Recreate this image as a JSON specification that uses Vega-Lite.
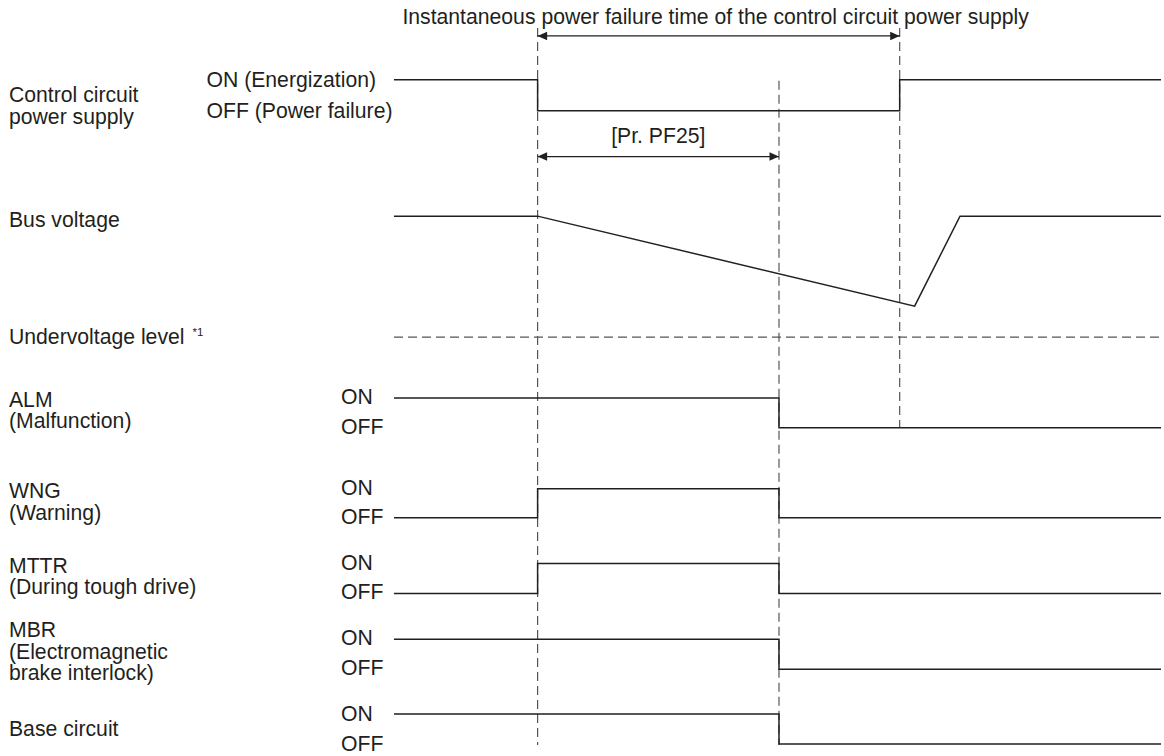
{
  "$schema": "https://vega.github.io/schema/vega-lite/v6.json",
  "width": 1164,
  "height": 756,
  "autosize": {"type": "fit", "contains": "padding"},
  "padding": 0,
  "background": "white",
  "config": {"view": {"stroke": null}},
  "datasets": {
    "signals": [
      {"s": "ctrl", "i": 0, "t": 395, "v": 80},
      {"s": "ctrl", "i": 1, "t": 539, "v": 80},
      {"s": "ctrl", "i": 2, "t": 539, "v": 111},
      {"s": "ctrl", "i": 3, "t": 902, "v": 111},
      {"s": "ctrl", "i": 4, "t": 902, "v": 80},
      {"s": "ctrl", "i": 5, "t": 1164, "v": 80},
      {"s": "bus", "i": 0, "t": 395, "v": 216.7},
      {"s": "bus", "i": 1, "t": 539, "v": 216.7},
      {"s": "bus", "i": 2, "t": 917, "v": 307},
      {"s": "bus", "i": 3, "t": 962.5, "v": 216.7},
      {"s": "bus", "i": 4, "t": 1164, "v": 216.7},
      {"s": "alm", "i": 0, "t": 395, "v": 399},
      {"s": "alm", "i": 1, "t": 781, "v": 399},
      {"s": "alm", "i": 2, "t": 781, "v": 429},
      {"s": "alm", "i": 3, "t": 1164, "v": 429},
      {"s": "wng", "i": 0, "t": 395, "v": 519},
      {"s": "wng", "i": 1, "t": 539, "v": 519},
      {"s": "wng", "i": 2, "t": 539, "v": 490},
      {"s": "wng", "i": 3, "t": 781, "v": 490},
      {"s": "wng", "i": 4, "t": 781, "v": 519},
      {"s": "wng", "i": 5, "t": 1164, "v": 519},
      {"s": "mttr", "i": 0, "t": 395, "v": 595},
      {"s": "mttr", "i": 1, "t": 539, "v": 595},
      {"s": "mttr", "i": 2, "t": 539, "v": 565},
      {"s": "mttr", "i": 3, "t": 781, "v": 565},
      {"s": "mttr", "i": 4, "t": 781, "v": 595},
      {"s": "mttr", "i": 5, "t": 1164, "v": 595},
      {"s": "mbr", "i": 0, "t": 395, "v": 641},
      {"s": "mbr", "i": 1, "t": 781, "v": 641},
      {"s": "mbr", "i": 2, "t": 781, "v": 671},
      {"s": "mbr", "i": 3, "t": 1164, "v": 671},
      {"s": "base", "i": 0, "t": 395, "v": 716},
      {"s": "base", "i": 1, "t": 781, "v": 716},
      {"s": "base", "i": 2, "t": 781, "v": 746},
      {"s": "base", "i": 3, "t": 1164, "v": 746}
    ],
    "markers": [
      {"t": 539, "v1": 28, "v2": 747},
      {"t": 781, "v1": 81, "v2": 747},
      {"t": 902, "v1": 28, "v2": 429}
    ],
    "levels": [
      {"t1": 395, "t2": 1164, "v": 338}
    ],
    "spans": [
      {"t1": 539, "t2": 902, "v": 36},
      {"t1": 539, "t2": 781, "v": 157}
    ],
    "heads_left": [
      {"t": 539, "v": 36},
      {"t": 539, "v": 157}
    ],
    "heads_right": [
      {"t": 902, "v": 36},
      {"t": 781, "v": 157}
    ],
    "labels": [
      {"text": "Control circuit", "t": 9, "v": 96},
      {"text": "power supply", "t": 9, "v": 118},
      {"text": "ON (Energization)", "t": 207, "v": 81},
      {"text": "OFF (Power failure)", "t": 207, "v": 112},
      {"text": "Bus voltage", "t": 9, "v": 222},
      {"text": "Undervoltage level", "t": 9, "v": 339},
      {"text": "ALM", "t": 9, "v": 402},
      {"text": "(Malfunction)", "t": 9, "v": 423},
      {"text": "ON", "t": 342, "v": 399},
      {"text": "OFF", "t": 342, "v": 429},
      {"text": "WNG", "t": 9, "v": 493},
      {"text": "(Warning)", "t": 9, "v": 515},
      {"text": "ON", "t": 342, "v": 490},
      {"text": "OFF", "t": 342, "v": 519},
      {"text": "MTTR", "t": 9, "v": 569},
      {"text": "(During tough drive)", "t": 9, "v": 590},
      {"text": "ON", "t": 342, "v": 565},
      {"text": "OFF", "t": 342, "v": 595},
      {"text": "MBR", "t": 9, "v": 633},
      {"text": "(Electromagnetic", "t": 9, "v": 655},
      {"text": "brake interlock)", "t": 9, "v": 676},
      {"text": "ON", "t": 342, "v": 641},
      {"text": "OFF", "t": 342, "v": 671},
      {"text": "Base circuit", "t": 9, "v": 732},
      {"text": "ON", "t": 342, "v": 717},
      {"text": "OFF", "t": 342, "v": 747}
    ],
    "centered": [
      {"text": "Instantaneous power failure time of the control circuit power supply", "t": 717.5, "v": 18},
      {"text": "[Pr. PF25]", "t": 660, "v": 137}
    ],
    "notes": [
      {"text": "*1", "t": 193, "v": 334}
    ]
  },
  "layer": [
    {
      "data": {"name": "markers"},
      "mark": {"type": "rule", "color": "#555555", "strokeWidth": 1.2, "strokeDash": [9, 5]},
      "encoding": {
        "x": {"field": "t", "type": "quantitative", "scale": {"domain": [0, 1164], "nice": false, "zero": false}, "axis": null},
        "y": {"field": "v1", "type": "quantitative", "scale": {"domain": [0, 756], "nice": false, "zero": false, "reverse": true}, "axis": null},
        "y2": {"field": "v2"}
      }
    },
    {
      "data": {"name": "levels"},
      "mark": {"type": "rule", "color": "#555555", "strokeWidth": 1.2, "strokeDash": [9, 5]},
      "encoding": {
        "x": {"field": "t1", "type": "quantitative"},
        "x2": {"field": "t2"},
        "y": {"field": "v", "type": "quantitative"}
      }
    },
    {
      "data": {"name": "spans"},
      "mark": {"type": "rule", "color": "#231f20", "strokeWidth": 1.3},
      "encoding": {
        "x": {"field": "t1", "type": "quantitative"},
        "x2": {"field": "t2"},
        "y": {"field": "v", "type": "quantitative"}
      }
    },
    {
      "data": {"name": "heads_left"},
      "mark": {"type": "point", "shape": "M0,0L2,-0.9L2,0.9Z", "size": 90, "filled": true, "color": "#231f20", "opacity": 1},
      "encoding": {
        "x": {"field": "t", "type": "quantitative"},
        "y": {"field": "v", "type": "quantitative"}
      }
    },
    {
      "data": {"name": "heads_right"},
      "mark": {"type": "point", "shape": "M0,0L-2,-0.9L-2,0.9Z", "size": 90, "filled": true, "color": "#231f20", "opacity": 1},
      "encoding": {
        "x": {"field": "t", "type": "quantitative"},
        "y": {"field": "v", "type": "quantitative"}
      }
    },
    {
      "data": {"name": "signals"},
      "mark": {"type": "line", "color": "#231f20", "strokeWidth": 1.5, "strokeJoin": "miter", "strokeCap": "butt"},
      "encoding": {
        "x": {"field": "t", "type": "quantitative"},
        "y": {"field": "v", "type": "quantitative"},
        "detail": {"field": "s"},
        "order": {"field": "i", "type": "quantitative"}
      }
    },
    {
      "data": {"name": "labels"},
      "mark": {"type": "text", "align": "left", "baseline": "middle", "font": "Liberation Sans", "fontSize": 21.2, "color": "#231f20"},
      "encoding": {
        "x": {"field": "t", "type": "quantitative"},
        "y": {"field": "v", "type": "quantitative"},
        "text": {"field": "text"}
      }
    },
    {
      "data": {"name": "centered"},
      "mark": {"type": "text", "align": "center", "baseline": "middle", "font": "Liberation Sans", "fontSize": 21.2, "color": "#231f20"},
      "encoding": {
        "x": {"field": "t", "type": "quantitative"},
        "y": {"field": "v", "type": "quantitative"},
        "text": {"field": "text"}
      }
    },
    {
      "data": {"name": "notes"},
      "mark": {"type": "text", "align": "left", "baseline": "middle", "font": "Liberation Sans", "fontSize": 11.5, "color": "#231f20"},
      "encoding": {
        "x": {"field": "t", "type": "quantitative"},
        "y": {"field": "v", "type": "quantitative"},
        "text": {"field": "text"}
      }
    }
  ]
}
